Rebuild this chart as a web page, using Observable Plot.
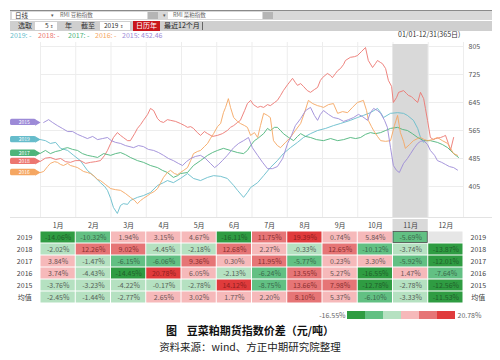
<!DOCTYPE html>
<html><head><meta charset="utf-8">
<script src="https://cdn.jsdelivr.net/npm/d3@7"></script>
<script src="https://cdn.jsdelivr.net/npm/@observablehq/plot@0.6"></script>
<style>
body{margin:0;background:#fff;font-family:"Noto Sans CJK SC","Noto Sans",sans-serif;}
#wrap{position:relative;width:500px;height:360px;overflow:hidden;background:#fff;}
</style></head><body><div id="wrap"></div>
<script>
// ---------- data ----------
const seriesNames = ["2019","2018","2017","2016","2015"];
const seriesColors = ["#66bccb","#ec7670","#4cb47a","#f5a661","#9c8ad7"];
const lastValue2015 = "452.46";
const yTicks = [805,725,645,565,485,405];
const months = ["1月","2月","3月","4月","5月","6月","7月","8月","9月","10月","11月","12月"];
const highlightMonth = 10; // 11月 (index)

const s2019 = [[0,539],[0.14,536],[0.28,528],[0.43,531],[0.57,514],[0.77,508],[0.94,494],[1.13,479],[1.33,451],[1.50,436],[1.70,416],[1.82,405],[1.90,394],[1.99,371],[2.07,345],[2.18,328],[2.27,351],[2.35,356],[2.47,354],[2.55,365],[2.75,374],[2.92,379],[3.12,388],[3.32,408],[3.49,416],[3.60,422],[3.77,416],[3.97,428],[4.17,442],[4.34,428],[4.54,422],[4.74,431],[4.91,436],[5.11,434],[5.30,428],[5.48,408],[5.59,394],[5.76,374],[5.87,388],[5.96,402],[6.16,416],[6.33,436],[6.52,459],[6.72,479],[6.89,499],[7.09,516],[7.29,531],[7.46,545],[7.66,556],[7.86,565],[8.09,571],[8.31,579],[8.51,585],[8.79,594],[8.99,602],[9.16,608],[9.36,616],[9.56,628],[9.65,616],[9.73,602],[9.93,614],[10.13,616],[10.30,614],[10.41,608],[10.58,594],[10.70,571],[10.78,545],[10.87,531]];
const s2018 = [[0,477],[0.14,486],[0.28,488],[0.43,482],[0.57,485],[0.71,476],[0.85,474],[0.99,479],[1.13,479],[1.28,471],[1.42,474],[1.56,476],[1.70,479],[1.82,494],[1.90,508],[1.99,528],[2.07,545],[2.18,559],[2.27,551],[2.35,545],[2.47,536],[2.55,536],[2.67,556],[2.75,571],[2.84,582],[2.92,594],[3.04,611],[3.12,628],[3.21,622],[3.32,599],[3.40,591],[3.49,588],[3.60,596],[3.69,594],[3.83,591],[3.97,585],[4.09,579],[4.17,574],[4.26,576],[4.34,571],[4.45,559],[4.54,551],[4.65,562],[4.74,556],[4.88,548],[5.02,551],[5.16,556],[5.30,565],[5.39,574],[5.48,579],[5.59,588],[5.67,594],[5.79,622],[5.87,642],[5.96,651],[6.04,639],[6.16,631],[6.24,634],[6.33,631],[6.44,639],[6.52,636],[6.64,645],[6.72,651],[6.81,665],[6.89,679],[7.01,696],[7.15,714],[7.23,702],[7.29,694],[7.38,699],[7.46,691],[7.57,679],[7.66,674],[7.77,682],[7.86,688],[7.94,708],[8.00,716],[8.14,728],[8.23,722],[8.28,716],[8.37,728],[8.43,736],[8.51,742],[8.60,754],[8.65,765],[8.79,774],[8.91,776],[8.99,779],[9.11,791],[9.22,802],[9.30,765],[9.42,745],[9.50,756],[9.56,765],[9.65,759],[9.70,756],[9.79,742],[9.87,708],[9.96,691],[10.01,645],[10.10,659],[10.16,674],[10.30,679],[10.38,671],[10.44,665],[10.52,662],[10.58,656],[10.70,645],[10.78,674],[10.87,656],[10.92,628],[10.98,594],[11.06,545],[11.15,539],[11.21,542],[11.35,545],[11.43,548],[11.49,551],[11.57,528],[11.63,508],[11.72,545]];
const s2017 = [[0,500],[0.14,508],[0.28,499],[0.43,505],[0.57,508],[0.68,514],[0.77,516],[0.91,511],[1.05,508],[1.19,499],[1.33,494],[1.48,491],[1.62,488],[1.79,499],[1.99,494],[2.13,499],[2.27,502],[2.41,496],[2.55,488],[2.75,479],[2.92,474],[3.12,465],[3.32,459],[3.46,451],[3.60,445],[3.77,431],[3.89,436],[3.97,442],[4.17,445],[4.34,465],[4.54,479],[4.74,494],[4.88,502],[5.02,508],[5.19,514],[5.39,508],[5.59,502],[5.76,499],[5.87,508],[5.96,522],[6.07,536],[6.16,542],[6.33,556],[6.44,571],[6.52,565],[6.64,574],[6.72,574],[6.81,565],[6.89,556],[7.04,545],[7.18,536],[7.29,548],[7.38,556],[7.52,548],[7.66,545],[7.83,539],[8.03,536],[8.23,542],[8.43,536],[8.60,539],[8.79,545],[8.94,542],[9.08,545],[9.22,554],[9.36,559],[9.50,556],[9.65,559],[9.79,565],[9.93,571],[10.13,574],[10.27,568],[10.41,565],[10.55,556],[10.70,545],[10.87,536],[11.06,536],[11.26,531],[11.40,525],[11.55,516],[11.63,508],[11.72,499],[11.86,488]];
const s2016 = [[0,445],[0.09,448],[0.20,462],[0.28,471],[0.40,476],[0.48,474],[0.57,468],[0.65,465],[0.77,471],[0.85,465],[0.96,462],[1.05,459],[1.13,454],[1.22,448],[1.33,445],[1.42,442],[1.53,434],[1.62,425],[1.70,422],[1.84,411],[1.99,399],[2.13,396],[2.27,394],[2.41,385],[2.55,374],[2.67,365],[2.75,356],[2.84,365],[2.92,371],[3.04,379],[3.12,385],[3.23,391],[3.32,399],[3.40,414],[3.49,431],[3.60,445],[3.69,451],[3.80,442],[3.89,439],[3.97,445],[4.06,451],[4.17,459],[4.26,479],[4.34,499],[4.45,505],[4.54,508],[4.65,519],[4.74,528],[4.82,542],[4.91,556],[5.02,576],[5.11,585],[5.19,616],[5.25,631],[5.33,656],[5.39,631],[5.48,602],[5.59,591],[5.67,585],[5.79,579],[5.87,574],[5.96,551],[6.07,559],[6.16,545],[6.24,579],[6.33,614],[6.44,608],[6.52,602],[6.61,536],[6.72,522],[6.81,516],[6.95,531],[7.09,545],[7.23,565],[7.38,585],[7.49,616],[7.60,651],[7.72,642],[7.86,636],[7.94,634],[8.03,631],[8.17,639],[8.31,642],[8.43,614],[8.57,619],[8.71,616],[8.85,631],[8.99,645],[9.16,651],[9.25,622],[9.30,594],[9.39,576],[9.45,565],[9.56,548],[9.65,536],[9.79,534],[9.93,536],[10.04,579],[10.13,608],[10.21,559],[10.30,534],[10.35,514],[10.47,525],[10.58,536],[10.70,542],[10.78,545],[10.89,539],[10.98,536],[11.12,539],[11.26,545],[11.40,536],[11.55,528],[11.63,514],[11.72,499],[11.83,494]];
const s2015 = [[0.09,588],[0.23,596],[0.34,588],[0.48,579],[0.62,571],[0.77,562],[0.91,562],[1.05,554],[1.19,548],[1.33,542],[1.48,548],[1.62,539],[1.76,542],[1.90,545],[2.01,536],[2.13,531],[2.27,528],[2.41,522],[2.64,516],[2.78,522],[2.92,519],[3.06,511],[3.21,508],[3.35,502],[3.49,494],[3.63,485],[3.77,479],[3.91,471],[4.03,465],[4.14,476],[4.26,485],[4.40,491],[4.54,494],[4.68,485],[4.82,471],[4.94,459],[5.05,468],[5.16,479],[5.30,494],[5.48,516],[5.62,528],[5.76,536],[5.90,545],[6.01,516],[6.16,494],[6.30,474],[6.44,456],[6.58,456],[6.72,462],[6.87,485],[7.01,528],[7.12,551],[7.23,579],[7.38,599],[7.52,622],[7.66,631],[7.77,608],[7.86,594],[7.94,611],[8.03,622],[8.17,611],[8.31,602],[8.45,599],[8.60,591],[8.74,596],[8.88,602],[9.02,611],[9.13,605],[9.28,594],[9.36,616],[9.45,628],[9.56,622],[9.65,614],[9.76,594],[9.84,574],[9.93,516],[10.01,465],[10.10,451],[10.18,445],[10.30,471],[10.41,485],[10.50,499],[10.61,516],[10.70,528],[10.78,534],[10.87,536],[10.98,525],[11.06,508],[11.18,494],[11.26,479],[11.38,474],[11.49,468],[11.60,462],[11.72,459],[11.83,452]];

const rowLabels = ["2019","2018","2017","2016","2015","均值"];
const r2019 = [-14.06,-10.32,1.94,3.15,4.67,-16.11,11.75,19.39,0.74,5.84,-5.69,null];
const r2018 = [-2.02,12.26,9.02,-4.45,-2.18,12.68,2.27,-0.33,12.65,-10.12,-3.74,-13.87];
const r2017 = [3.84,-1.47,-6.15,-6.06,9.36,0.30,11.95,-5.77,0.23,3.30,-5.92,-12.01];
const r2016 = [3.74,-4.43,-14.45,20.78,6.05,-2.13,-6.24,13.55,5.27,-16.55,1.47,-7.64];
const r2015 = [-3.76,-3.23,-4.22,-0.17,-2.78,14.12,-8.75,13.66,7.98,-12.78,-2.78,-12.56];
const rMean = [-2.45,-1.44,-2.77,2.65,3.02,1.77,2.20,8.10,5.37,-6.10,-3.33,-11.53];

const thresholds = [-11,-5,0,7,14];
const cellColors = ["#2f9c42","#62c083","#b5e1c1","#f6b9ba","#e67576","#e03b3c"];
const cellText = ["#1f5f2a","#3a6a4c","#566158","#6b5556","#8a2f30","#8f1d1e"];

// ---------- layout helpers ----------
const wrap = document.getElementById("wrap");
function el(tag, css, html){const e=document.createElement(tag);e.style.cssText="position:absolute;white-space:nowrap;line-height:1;"+css;if(html!=null)e.innerHTML=html;wrap.appendChild(e);return e;}

// toolbar
el("div","left:10px;top:10px;width:482px;height:1px;background:#8a8a8a;");
el("div","left:10px;top:11px;width:482px;height:9px;background:#d8d8d8;");
el("div","left:12px;top:12px;width:135px;height:7px;background:#fff;");
el("div","left:15px;top:12px;font-size:6.5px;color:#333;","日线");
el("div","left:51px;top:12px;font-size:5px;color:#555;","▾");
el("div","left:60px;top:13px;font-size:5.5px;color:#666;","RMI 豆粕指数");
el("div","left:148px;top:12px;width:10px;height:7px;background:#b5b5b5;");
el("div","left:163px;top:12px;font-size:5px;color:#555;","▾");
el("div","left:168px;top:12px;width:94px;height:7px;background:#fff;");
el("div","left:173px;top:13px;font-size:5.5px;color:#666;","RMI 菜粕指数");
el("div","left:263px;top:12px;width:10px;height:7px;background:#b5b5b5;");
el("div","left:10px;top:21px;width:482px;height:10px;background:#cfcfcf;");
el("div","left:18px;top:22px;font-size:7px;color:#333;","选取");
el("div","left:35px;top:22px;width:22px;height:8px;background:#fff;");
el("div","left:45px;top:22px;font-size:6.5px;color:#333;","5 <span style='font-size:4px'>⇕</span>");
el("div","left:65px;top:22px;font-size:7px;color:#333;","年");
el("div","left:81px;top:22px;font-size:7px;color:#333;","截至");
el("div","left:100px;top:22px;width:30px;height:8px;background:#fff;");
el("div","left:104px;top:22px;font-size:6.5px;color:#333;","2019 <span style='font-size:4px'>⇕</span>");
el("div","left:133px;top:21px;width:27px;height:10px;background:#c9161c;");
el("div","left:136px;top:22px;font-size:7px;color:#fff;","日历年");
el("div","left:164px;top:22px;font-size:7px;color:#222;","最近12个月");
el("div","left:202px;top:22px;width:1px;height:8px;background:#666;");

// legend row
const legX = [10,38,68,95,122];
seriesNames.forEach((n,i)=>{
  el("div",`left:${legX[i]}px;top:32px;font-size:7px;color:${seriesColors[i]};`, n+": "+(n==="2015"?lastValue2015:"-"));
});
el("div","left:398px;top:31px;font-size:7px;color:#333;","01/01-12/31(365日)");

// ---------- line chart ----------
const series = [s2019,s2018,s2017,s2016,s2015];
const lineRows = [];
series.forEach((s,i)=>s.forEach(([m,v])=>lineRows.push({year:seriesNames[i],m,v})));
const tags = seriesNames.map((n,i)=>({year:n, v:series[i][0][1]}));
const yLo = 313.6, yHi = 816.4;
const fontStyle = {fontFamily:"'Noto Sans CJK SC','Noto Sans',sans-serif", fontSize:"7px", background:"transparent", overflow:"visible"};

const plotA = Plot.plot({
  width:500, height:176, marginLeft:40, marginRight:37, marginTop:0, marginBottom:0,
  style:fontStyle,
  x:{domain:[0,12], axis:null},
  y:{domain:[yLo,yHi], axis:null},
  color:{domain:seriesNames, range:seriesColors},
  marks:[
    Plot.ruleX(d3.range(0,13),{stroke:"#ededed"}),
    Plot.ruleY(yTicks,{stroke:"#ededed"}),
    Plot.rect([highlightMonth],{x1:d=>d, x2:d=>d+1, y1:yLo, y2:810.7, fill:"#d9d9d9"}),
    Plot.line(lineRows,{x:"m", y:"v", z:"year", stroke:"year", strokeWidth:0.9}),
    Plot.text(yTicks,{x:12, y:d=>d, text:d=>String(d), dx:5, textAnchor:"start", fontSize:7, fill:"#555"}),
    Plot.rect(tags,{x1:-0.85, x2:-0.12, y1:d=>d.v-9, y2:d=>d.v+9, fill:"year", rx:1.5}),
    Plot.dot(tags,{x:-0.1, y:"v", symbol:"triangle", rotate:90, r:2.4, fill:"year", stroke:"none"}),
    Plot.text(tags,{x:-0.46, y:"v", text:"year", fill:"#fff", fontSize:5})
  ]
});
plotA.style.position="absolute"; plotA.style.left="0px"; plotA.style.top="42px";
wrap.appendChild(plotA);

// ---------- table ----------
const tableRows = [r2019,r2018,r2017,r2016,r2015,rMean];
const cells = [];
tableRows.forEach((arr,ri)=>arr.forEach((v,mi)=>cells.push({row:rowLabels[ri], m:mi, v})));
const filled = cells.filter(d=>d.v!=null);
const empty = cells.filter(d=>d.v==null);
const level = v => d3.bisectRight(thresholds, v);
const yDomain = ["header", ...rowLabels];

const textMarks = cellText.map((c,li)=>Plot.text(filled.filter(d=>level(d.v)===li),{
  x:d=>d.m+0.5, y:"row", text:d=>d.v.toFixed(2)+"%", fill:c, fontSize:7}));

const plotB = Plot.plot({
  width:500, height:86, marginLeft:40, marginRight:37, marginTop:0, marginBottom:0,
  style:fontStyle,
  x:{domain:[0,12], axis:null},
  y:{domain:yDomain, axis:null, padding:0},
  color:{type:"threshold", domain:thresholds, range:cellColors},
  marks:[
    Plot.barX([highlightMonth],{x1:d=>d, x2:d=>d+1, y:()=>"header", fill:"#d9d9d9"}),
    Plot.barX(filled,{x1:"m", x2:d=>d.m+1, y:"row", fill:"v", inset:0.5}),
    Plot.barX(empty,{x1:"m", x2:d=>d.m+1, y:"row", fill:"#e6e6e6", inset:0.5}),
    Plot.barX([{row:"2019", m:highlightMonth}],{x1:"m", x2:d=>d.m+1, y:"row", fill:"none", stroke:"#4a4a4a", strokeWidth:0.8, inset:0.5}),
    Plot.text(months,{x:(d,i)=>i+0.5, y:()=>"header", text:d=>d, fill:"#444", fontSize:7}),
    ...textMarks,
    Plot.text(rowLabels,{x:-0.45, y:d=>d, text:d=>d, fill:"#444", fontSize:7}),
    Plot.text(rowLabels,{x:12.42, y:d=>d, text:d=>d, fill:"#444", fontSize:7})
  ]
});
plotB.style.position="absolute"; plotB.style.left="0px"; plotB.style.top="218px";
wrap.appendChild(plotB);
el("div","left:10px;top:217px;width:482px;height:1px;background:#e3e3e3;");

// ---------- color legend ----------
const allVals = filled.map(d=>d.v);
const vMin = d3.min(allVals), vMax = d3.max(allVals);
const plotC = Plot.plot({
  width:500, height:8, marginLeft:347, marginRight:45, marginTop:0, marginBottom:0,
  style:fontStyle,
  x:{domain:[0,cellColors.length], axis:null},
  y:{axis:null},
  marks:[
    Plot.rect(cellColors,{x1:(d,i)=>i, x2:(d,i)=>i+1, y1:0, y2:1, fill:d=>d}),
    Plot.text([vMin],{x:0, y:0.5, text:d=>d.toFixed(2)+"%", dx:-2, textAnchor:"end", fill:"#666", fontSize:7}),
    Plot.text([vMax],{x:cellColors.length, y:0.5, text:d=>d.toFixed(2)+"%", dx:2, textAnchor:"start", fill:"#666", fontSize:7})
  ]
});
plotC.style.position="absolute"; plotC.style.left="0px"; plotC.style.top="311px";
wrap.appendChild(plotC);

// ---------- title & caption ----------
el("div","left:0;width:500px;top:325px;text-align:center;font-size:11px;font-weight:bold;color:#111;","图&nbsp;&nbsp;&nbsp;&nbsp;豆菜粕期货指数价差（元/吨）");
el("div","left:0;width:500px;top:342px;text-align:center;font-size:10.5px;color:#222;","资料来源：wind、方正中期研究院整理");
</script></body></html>
